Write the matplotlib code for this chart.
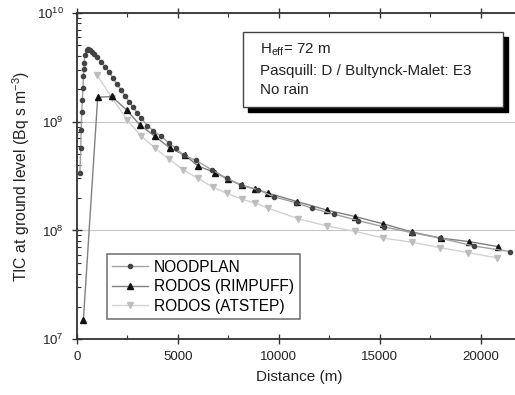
import numpy as np
import matplotlib
matplotlib.use("Agg")
import matplotlib.pyplot as plt
from matplotlib.patches import Rectangle

plt.rcParams['font.family'] = ['Liberation Sans', 'DejaVu Sans']
plt.rcParams['mathtext.default'] = 'regular'

# NOODPLAN (dots)
noodplan_x = [160, 200, 220, 250, 280, 310, 330, 345, 365, 410, 495, 560, 650, 760, 880, 990,
              1200, 1400, 1600, 1800, 2000, 2200, 2400, 2600, 2800, 3000, 3200,
              3500, 3800, 4150, 4550, 4900, 5300, 5900, 6700, 7450, 8150,
              9000, 9750, 10850, 11650, 12750, 13950, 15200, 16600, 18000, 19650, 21450]
noodplan_y = [3.35e8, 5.7e8, 8.4e8, 1.23e9, 1.58e9, 2.02e9, 2.62e9, 3.02e9, 3.43e9, 4.09e9,
              4.54e9, 4.6e9, 4.55e9, 4.4e9, 4.15e9, 3.95e9,
              3.55e9, 3.2e9, 2.85e9, 2.5e9, 2.2e9, 1.95e9, 1.72e9, 1.52e9, 1.35e9, 1.2e9, 1.07e9,
              9.2e8, 8.2e8, 7.4e8, 6.4e8, 5.7e8, 4.9e8, 4.4e8, 3.6e8, 3.0e8, 2.6e8,
              2.36e8, 2.04e8, 1.8e8, 1.6e8, 1.41e8, 1.23e8, 1.08e8, 9.55e7, 8.5e7, 7.2e7, 6.4e7]

# RODOS (RIMPUFF)
rimpuff_x = [330, 1040, 1730, 2470, 3130, 3880, 4620, 5360, 6020, 6850, 7500, 8170, 8830,
             9490, 10920, 12380, 13790, 15180, 16580, 18020, 19430, 20870]
rimpuff_y = [1.5e7, 1.67e9, 1.7e9, 1.28e9, 9.3e8, 7.3e8, 5.7e8, 4.9e8, 3.9e8, 3.4e8, 2.95e8, 2.6e8, 2.4e8,
             2.2e8, 1.84e8, 1.54e8, 1.34e8, 1.15e8, 9.7e7, 8.5e7, 7.9e7, 7.1e7]

# RODOS (ATSTEP)
atstep_x = [990, 1750, 2500, 3180, 3880, 4590, 5280, 6020, 6730, 7420, 8170, 8850,
            9490, 10970, 12380, 13790, 15180, 16580, 17990, 19380, 20820]
atstep_y = [2.7e9, 1.65e9, 1.03e9, 7.4e8, 5.7e8, 4.5e8, 3.6e8, 3.0e8, 2.5e8, 2.2e8, 1.94e8, 1.78e8,
            1.6e8, 1.28e8, 1.1e8, 9.8e7, 8.5e7, 7.8e7, 6.95e7, 6.25e7, 5.6e7]

W, H = 515, 395
fig = plt.figure(figsize=(W / 100, H / 100), dpi=100)
ax = fig.add_axes([76.7 / W, 1 - 339.3 / H, 444.3 / W, 326.6 / H])

ax.plot(atstep_x, atstep_y, '-', color='#d2d2d2', lw=1.0, marker='v', ms=4.5,
        mfc='#bdbdbd', mec='#bdbdbd', label='RODOS (ATSTEP)', zorder=3)
ax.plot(rimpuff_x, rimpuff_y, '-', color='#808080', lw=1.0, marker='^', ms=4.5,
        mfc='#111111', mec='#111111', label='RODOS (RIMPUFF)', zorder=4)
ax.plot(noodplan_x, noodplan_y, '-', color='#a0a0a0', lw=1.0, marker='o', ms=3.0,
        mfc='#444444', mec='#444444', label='NOODPLAN', zorder=5)

ax.set_yscale('log')
ax.set_xlim(0, 22000)
ax.set_ylim(1e7, 1e10)
ax.set_xticks([0, 5000, 10000, 15000, 20000])
ax.set_xticks([2500, 7500, 12500, 17500], minor=True)
ax.set_yticks([1e7, 1e8, 1e9, 1e10])
ax.set_yticklabels(['$10^7$', '$10^8$', '$10^9$', '$10^{10}$'])
ax.tick_params(axis='both', which='major', labelsize=9.5, direction='inout', length=7, width=1,
               top=True, colors='#333333', labelcolor='#222222')
ax.tick_params(axis='y', which='major', pad=6)
ax.tick_params(axis='x', which='major', pad=5)
ax.tick_params(axis='both', which='minor', direction='in', length=3, width=0.8, top=True, colors='#333333')
ax.tick_params(axis='y', which='minor', labelleft=False)
for s in ax.spines.values():
    s.set_linewidth(1.3)
    s.set_color('#333333')

ax.grid(True, which='major', axis='y', color='#c8c8c8', lw=0.8)
ax.set_axisbelow(True)

ax.set_xlabel('Distance (m)', fontsize=11, color='#222222', labelpad=5)
ax.set_ylabel('TIC at ground level (Bq s m$^{-3}$)', fontsize=11.3, color='#222222', labelpad=3)

h, l = ax.get_legend_handles_labels()
leg = ax.legend(h[::-1], l[::-1], loc='lower left', bbox_to_anchor=((106.7 - 76.7) / 444.3, (339.3 - 319.3) / 326.6),
                fontsize=11.2, frameon=True, fancybox=False, handlelength=2.3, handletextpad=0.4,
                borderpad=0.35, labelspacing=0.3, borderaxespad=0)
leg.get_frame().set_edgecolor('#555555')
leg.get_frame().set_linewidth(1.2)

# info box with black shadow
def fx(px):
    return px / W

def fy(py):
    return 1 - py / H

bx0, by0, bx1, by1 = 243.3, 31.7, 503, 107
fig.patches.append(Rectangle((fx(bx0 + 5), fy(by1 + 5)), fx(bx1 - bx0), (by1 - by0) / H,
                             transform=fig.transFigure, facecolor='black', edgecolor='black', zorder=5))
fig.patches.append(Rectangle((fx(bx0), fy(by1)), fx(bx1 - bx0), (by1 - by0) / H,
                             transform=fig.transFigure, facecolor='white', edgecolor='#444444', lw=1.0, zorder=6))
fig.text(fx(260), fy(50), 'H$_{eff}$= 72 m', fontsize=10.9, color='#222222', va='center', zorder=7)
fig.text(fx(260), fy(71), 'Pasquill: D / Bultynck-Malet: E3', fontsize=10.9, color='#222222', va='center', zorder=7)
fig.text(fx(260), fy(90), 'No rain', fontsize=10.9, color='#222222', va='center', zorder=7)

fig.savefig('out.png', dpi=100)
